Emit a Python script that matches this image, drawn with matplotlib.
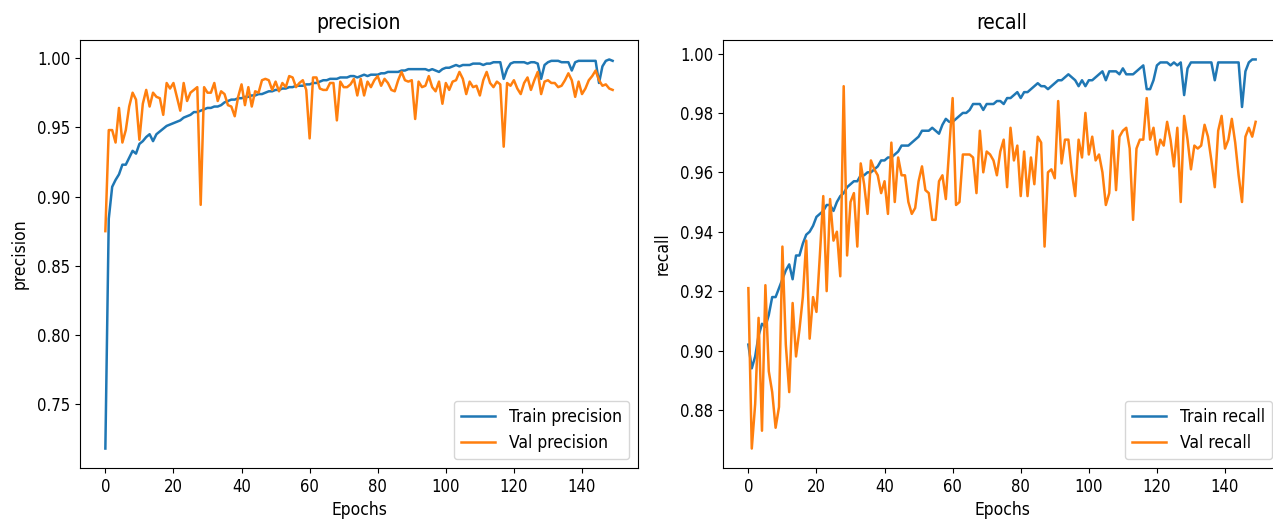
import numpy as np
import matplotlib
matplotlib.use("Agg")
from matplotlib import pyplot as plt

# values, one per epoch (0..149)
train_precision = [
    0.718, 0.884, 0.907, 0.912, 0.916, 0.923, 0.923, 0.928, 0.933, 0.931,
    0.938, 0.940, 0.943, 0.945, 0.940, 0.945, 0.947, 0.949, 0.951, 0.952,
    0.953, 0.954, 0.955, 0.957, 0.958, 0.959, 0.961, 0.961, 0.962, 0.963,
    0.964, 0.964, 0.965, 0.965, 0.966, 0.968, 0.969, 0.970, 0.970, 0.971,
    0.971, 0.972, 0.972, 0.973, 0.973, 0.974, 0.974, 0.975, 0.976, 0.976,
    0.977, 0.977, 0.978, 0.978, 0.979, 0.979, 0.980, 0.980, 0.980, 0.981,
    0.981, 0.982, 0.982, 0.983, 0.984, 0.984, 0.985, 0.985, 0.985, 0.986,
    0.986, 0.986, 0.987, 0.987, 0.986, 0.987, 0.988, 0.987, 0.988, 0.988,
    0.988, 0.989, 0.989, 0.990, 0.990, 0.990, 0.990, 0.991, 0.991, 0.992,
    0.992, 0.992, 0.992, 0.992, 0.992, 0.991, 0.992, 0.991, 0.990, 0.992,
    0.993, 0.993, 0.994, 0.995, 0.994, 0.995, 0.995, 0.995, 0.996, 0.996,
    0.996, 0.995, 0.996, 0.996, 0.997, 0.997, 0.997, 0.985, 0.992, 0.996,
    0.997, 0.997, 0.997, 0.997, 0.996, 0.997, 0.997, 0.996, 0.985, 0.995,
    0.997, 0.998, 0.998, 0.998, 0.997, 0.997, 0.997, 0.991, 0.997, 0.998,
    0.998, 0.998, 0.998, 0.998, 0.998, 0.982, 0.994, 0.998, 0.999, 0.998,
]
val_precision = [
    0.875, 0.948, 0.948, 0.939, 0.964, 0.939, 0.948, 0.965, 0.975, 0.970,
    0.941, 0.967, 0.977, 0.965, 0.975, 0.972, 0.971, 0.959, 0.982, 0.978,
    0.982, 0.972, 0.962, 0.982, 0.969, 0.975, 0.977, 0.979, 0.894, 0.979,
    0.975, 0.975, 0.982, 0.969, 0.976, 0.974, 0.966, 0.965, 0.958, 0.972,
    0.981, 0.966, 0.979, 0.965, 0.976, 0.975, 0.984, 0.985, 0.984, 0.977,
    0.983, 0.976, 0.982, 0.979, 0.987, 0.986, 0.979, 0.982, 0.984, 0.977,
    0.942, 0.986, 0.986, 0.978, 0.977, 0.977, 0.982, 0.982, 0.955, 0.983,
    0.979, 0.979, 0.981, 0.985, 0.973, 0.985, 0.973, 0.983, 0.979, 0.984,
    0.987, 0.980, 0.985, 0.982, 0.977, 0.976, 0.984, 0.990, 0.984, 0.983,
    0.984, 0.956, 0.983, 0.979, 0.980, 0.987, 0.979, 0.976, 0.983, 0.967,
    0.982, 0.977, 0.983, 0.984, 0.990, 0.985, 0.974, 0.983, 0.979, 0.980,
    0.973, 0.984, 0.990, 0.982, 0.979, 0.983, 0.981, 0.936, 0.982, 0.980,
    0.984, 0.978, 0.974, 0.982, 0.986, 0.977, 0.984, 0.990, 0.974, 0.983,
    0.984, 0.982, 0.982, 0.979, 0.980, 0.984, 0.989, 0.984, 0.972, 0.983,
    0.974, 0.978, 0.984, 0.987, 0.991, 0.984, 0.980, 0.981, 0.978, 0.977,
]
train_recall = [
    0.902, 0.894, 0.898, 0.905, 0.909, 0.908, 0.912, 0.918, 0.918, 0.921,
    0.924, 0.927, 0.929, 0.924, 0.932, 0.932, 0.936, 0.939, 0.940, 0.942,
    0.945, 0.946, 0.947, 0.949, 0.949, 0.947, 0.950, 0.952, 0.953, 0.955,
    0.956, 0.957, 0.957, 0.959, 0.959, 0.960, 0.960, 0.961, 0.962, 0.964,
    0.964, 0.965, 0.965, 0.966, 0.967, 0.969, 0.969, 0.969, 0.970, 0.971,
    0.972, 0.974, 0.974, 0.974, 0.975, 0.974, 0.973, 0.976, 0.978, 0.977,
    0.977, 0.978, 0.979, 0.980, 0.980, 0.981, 0.983, 0.983, 0.983, 0.981,
    0.983, 0.983, 0.983, 0.984, 0.984, 0.983, 0.985, 0.985, 0.986, 0.987,
    0.985, 0.987, 0.987, 0.988, 0.989, 0.990, 0.989, 0.989, 0.988, 0.989,
    0.990, 0.991, 0.991, 0.992, 0.993, 0.992, 0.991, 0.989, 0.991, 0.989,
    0.991, 0.991, 0.992, 0.993, 0.994, 0.991, 0.994, 0.994, 0.994, 0.993,
    0.995, 0.993, 0.993, 0.993, 0.994, 0.995, 0.996, 0.988, 0.988, 0.991,
    0.996, 0.997, 0.997, 0.997, 0.996, 0.997, 0.996, 0.997, 0.986, 0.995,
    0.997, 0.997, 0.997, 0.997, 0.997, 0.997, 0.997, 0.991, 0.997, 0.997,
    0.997, 0.997, 0.997, 0.997, 0.997, 0.982, 0.994, 0.997, 0.998, 0.998,
]
val_recall = [
    0.921, 0.867, 0.882, 0.911, 0.873, 0.922, 0.893, 0.886, 0.874, 0.881,
    0.935, 0.902, 0.886, 0.916, 0.898, 0.907, 0.918, 0.937, 0.904, 0.918,
    0.913, 0.932, 0.952, 0.920, 0.951, 0.937, 0.940, 0.925, 0.989, 0.932,
    0.950, 0.953, 0.935, 0.963, 0.956, 0.946, 0.964, 0.961, 0.959, 0.953,
    0.957, 0.946, 0.970, 0.950, 0.965, 0.959, 0.959, 0.950, 0.946, 0.948,
    0.957, 0.962, 0.954, 0.953, 0.944, 0.944, 0.957, 0.959, 0.951, 0.968,
    0.985, 0.949, 0.950, 0.966, 0.966, 0.966, 0.965, 0.953, 0.974, 0.960,
    0.967, 0.966, 0.964, 0.959, 0.967, 0.971, 0.955, 0.975, 0.964, 0.969,
    0.952, 0.967, 0.952, 0.965, 0.956, 0.972, 0.970, 0.935, 0.960, 0.961,
    0.958, 0.984, 0.963, 0.971, 0.971, 0.960, 0.952, 0.971, 0.965, 0.980,
    0.966, 0.972, 0.964, 0.966, 0.960, 0.949, 0.953, 0.974, 0.954, 0.972,
    0.974, 0.975, 0.968, 0.944, 0.968, 0.971, 0.971, 0.985, 0.971, 0.975,
    0.966, 0.971, 0.969, 0.977, 0.971, 0.962, 0.975, 0.950, 0.979, 0.971,
    0.961, 0.969, 0.968, 0.969, 0.976, 0.972, 0.964, 0.955, 0.974, 0.979,
    0.968, 0.971, 0.978, 0.970, 0.959, 0.950, 0.972, 0.975, 0.972, 0.977,
]

epochs = np.arange(len(train_precision))

plt.rcParams['font.family'] = ['DejaVu Sans']
plt.rcParams['font.stretch'] = 'condensed'

fig = plt.figure(figsize=(12.73, 5.29), dpi=100)
# right panel runs a little past the figure edge, as in the cropped reference
ax1 = fig.add_axes([80/1273, 61/529, 558/1273, 428/529])
ax2 = fig.add_axes([723/1273, 61/529, 558/1273, 428/529])

panels = [(ax1, 'precision', train_precision, val_precision),
          (ax2, 'recall', train_recall, val_recall)]

for ax, name, tr, va in panels:
    ax.plot(epochs, tr, color='#1f77b4', lw=1.8, label=f'Train {name}')
    ax.plot(epochs, va, color='#ff7f0e', lw=1.8, label=f'Val {name}')
    ax.set_title(name, fontsize=15, pad=8)
    ax.set_xlabel('Epochs', fontsize=12.5, labelpad=4)
    ax.set_ylabel(name, fontsize=12.5, labelpad=6)
    ax.tick_params(labelsize=12)
    ax.legend(loc='lower right', fontsize=12.5)

ax1.set_xticks([0, 20, 40, 60, 80, 100, 120, 140])
ax2.set_xticks([0, 20, 40, 60, 80, 100, 120, 140])

fig.savefig('out.png', dpi=100)
